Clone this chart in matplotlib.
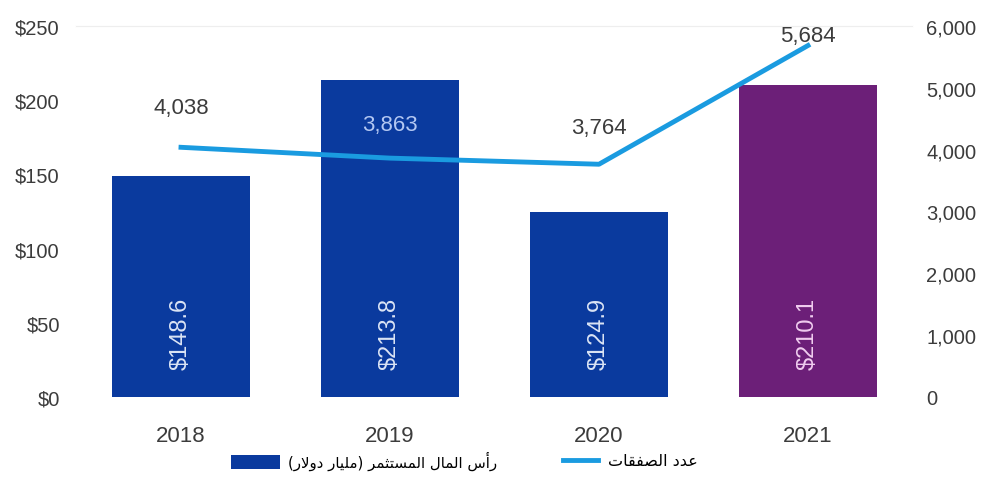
import numpy as np
import matplotlib
matplotlib.use("Agg")
import matplotlib.pyplot as plt
from matplotlib.lines import Line2D
from matplotlib.patches import Patch

# البيانات
years = ["2018", "2019", "2020", "2021"]
capital = [148.6, 213.8, 124.9, 210.1]          # مليار دولار
deals = [4038, 3863, 3764, 5684]                # عدد الصفقات
capital_labels = ["$148.6", "$213.8", "$124.9", "$210.1"]
deal_labels = ["4,038", "3,863", "3,764", "5,684"]
left_ticks = [0, 50, 100, 150, 200, 250]
left_ticklabels = ["$0", "$50", "$100", "$150", "$200", "$250"]
right_ticks = [0, 1000, 2000, 3000, 4000, 5000, 6000]
right_ticklabels = ["0", "1,000", "2,000", "3,000", "4,000", "5,000", "6,000"]
legend_bar = "رأس المال المستثمر (مليار دولار)"
legend_line = "عدد الصفقات"

BLUE = "#0a3a9e"
PURPLE = "#6c1f78"
LINE = "#1a9be0"
GREY = "#3c3c3c"

# تشكيل بسيط للحروف العربية (بدون مكتبات خارجية)
# (isolated, final, initial, medial)
FORMS = {
    "ا": (0xFE8D, 0xFE8E, None, None),
    "أ": (0xFE83, 0xFE84, None, None),
    "ت": (0xFE95, 0xFE96, 0xFE97, 0xFE98),
    "ث": (0xFE99, 0xFE9A, 0xFE9B, 0xFE9C),
    "د": (0xFEA9, 0xFEAA, None, None),
    "ر": (0xFEAD, 0xFEAE, None, None),
    "س": (0xFEB1, 0xFEB2, 0xFEB3, 0xFEB4),
    "ص": (0xFEB9, 0xFEBA, 0xFEBB, 0xFEBC),
    "ع": (0xFEC9, 0xFECA, 0xFECB, 0xFECC),
    "ف": (0xFED1, 0xFED2, 0xFED3, 0xFED4),
    "ق": (0xFED5, 0xFED6, 0xFED7, 0xFED8),
    "ل": (0xFEDD, 0xFEDE, 0xFEDF, 0xFEE0),
    "م": (0xFEE1, 0xFEE2, 0xFEE3, 0xFEE4),
    "و": (0xFEED, 0xFEEE, None, None),
    "ي": (0xFEF1, 0xFEF2, 0xFEF3, 0xFEF4),
}
MIRROR = {"(": ")", ")": "("}


def shape_arabic(text):
    out = []
    chars = list(text)
    i = 0
    while i < len(chars):
        c = chars[i]
        if c not in FORMS:
            out.append(MIRROR.get(c, c))
            i += 1
            continue
        prev = chars[i - 1] if i > 0 else None
        joins_prev = prev in FORMS and FORMS[prev][2] is not None
        # لام ألف
        if c == "ل" and i + 1 < len(chars) and chars[i + 1] == "ا":
            out.append(chr(0xFEFC if joins_prev else 0xFEFB))
            i += 2
            continue
        nxt = chars[i + 1] if i + 1 < len(chars) else None
        joins_next = FORMS[c][2] is not None and nxt in FORMS
        iso, fin, ini, med = FORMS[c]
        if joins_prev and joins_next:
            code = med
        elif joins_prev:
            code = fin
        elif joins_next:
            code = ini
        else:
            code = iso
        out.append(chr(code))
        i += 1
    return "".join(reversed(out))


plt.rcParams["font.family"] = ["Liberation Sans", "DejaVu Sans"]

fig = plt.figure(figsize=(9.87, 4.81), dpi=100)
ax = fig.add_axes([0.0775, 0.1726, 0.847, 0.7713])
ax2 = ax.twinx()

x = np.arange(len(years))
colors = [BLUE, BLUE, BLUE, PURPLE]
ax.bar(x, capital, width=0.66, color=colors, zorder=2)

label_colors = ["#dbe4f5", "#dbe4f5", "#dbe4f5", "#f0cdef"]
for xi, lab, lc in zip(x, capital_labels, label_colors):
    ax.text(xi, 43, lab, rotation=90, ha="center", va="center",
            color=lc, fontsize=17)

ax.set_xlim(-0.5, 3.5)
ax.set_ylim(0, 250)
ax.set_yticks(left_ticks)
ax.set_yticklabels(left_ticklabels)
ax.set_xticks(x)
ax.set_xticklabels(years)
ax.tick_params(axis="y", length=0, pad=12, labelsize=14.5, labelcolor=GREY)
ax.tick_params(axis="x", length=0, pad=20, labelsize=16, labelcolor=GREY)

ax2.plot(x, deals, color=LINE, linewidth=3.5, zorder=3)
ax2.set_ylim(0, 6000)
ax2.set_yticks(right_ticks)
ax2.set_yticklabels(right_ticklabels)
ax2.tick_params(axis="y", length=0, pad=10, labelsize=14.5, labelcolor=GREY)

deal_colors = [GREY, "#b3c7f2", GREY, GREY]
deal_offsets = [21, 17, 19, 0]
for xi, v, lab, c, off in zip(x, deals, deal_labels, deal_colors, deal_offsets):
    ax2.annotate(lab, (xi, v), xytext=(0, off), textcoords="offset points",
                 ha="center", va="bottom", color=c, fontsize=16)

for a in (ax, ax2):
    for s in ("left", "right", "bottom"):
        a.spines[s].set_visible(False)
    a.spines["top"].set_color("#eeeeee")
ax.set_zorder(1)
ax2.set_zorder(2)
ax.patch.set_visible(False)

bar_handle = Patch(facecolor=BLUE, edgecolor="none")
line_handle = Line2D([0], [0], color=LINE, linewidth=3.5)
fig.legend([bar_handle], [shape_arabic(legend_bar)], loc="center left",
           bbox_to_anchor=(0.226, 0.04), frameon=False, borderpad=0,
           handlelength=3.3, handleheight=1.1, handletextpad=0.5,
           prop={"family": "DejaVu Sans", "size": 10.8})
fig.legend([line_handle], [shape_arabic(legend_line)], loc="center left",
           bbox_to_anchor=(0.5623, 0.04), frameon=False, borderpad=0,
           handlelength=2.2, handletextpad=0.6,
           prop={"family": "DejaVu Sans", "size": 11.5})

fig.savefig("out.png", dpi=100)
